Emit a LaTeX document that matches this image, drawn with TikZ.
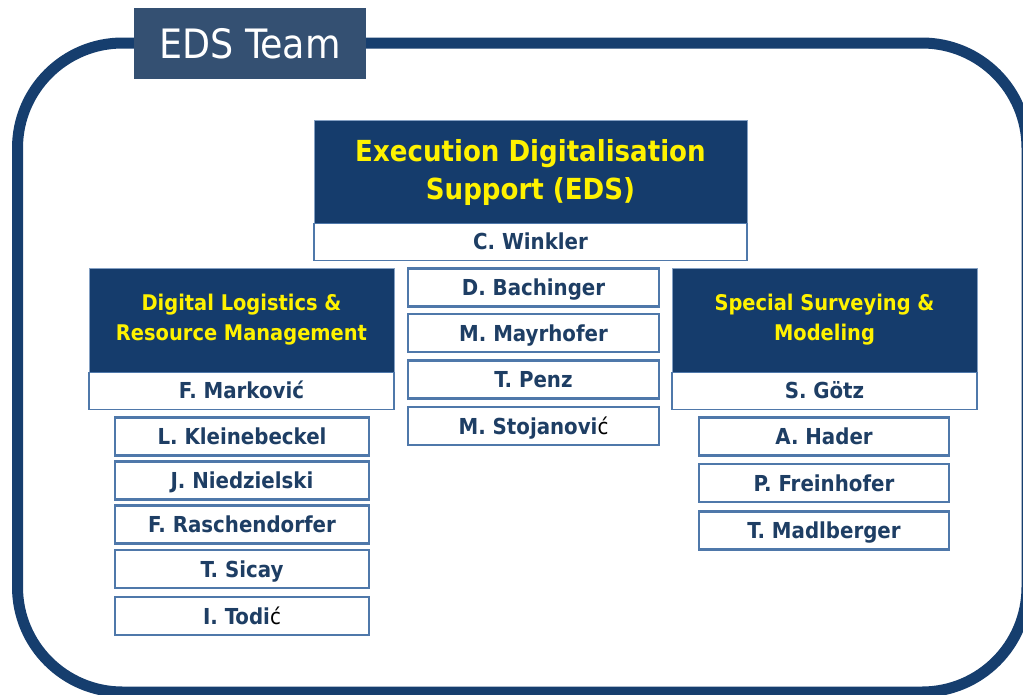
\documentclass[tikz,border=0pt]{standalone}
\usepackage{fontspec}
\setmainfont{DejaVu Sans Condensed}
\definecolor{framec}{RGB}{22,62,110}
\definecolor{titlec}{RGB}{52,80,114}
\definecolor{hdrfill}{RGB}{21,60,108}
\definecolor{hdrtext}{RGB}{255,242,0}
\definecolor{nametext}{RGB}{30,62,100}
\definecolor{boxline}{RGB}{79,120,170}
\tikzset{
  hdr/.style={fill=hdrfill, draw=boxline!70!white, line width=1pt, text=hdrtext, align=center, inner sep=0pt},
  namebar/.style={fill=white, draw=boxline, line width=1.5pt, text=nametext, font=\bfseries\fontsize{22}{24}\selectfont, inner sep=0pt, text height=16pt, text depth=0pt},
  person/.style={fill=white, draw=boxline, line width=2.2pt, text=nametext, font=\bfseries\fontsize{22}{24}\selectfont, inner sep=0pt, text height=16pt, text depth=0pt, minimum height=38pt},
}
\begin{document}
\begin{tikzpicture}[x=1pt,y=-1pt]
\useasboundingbox (0,0) rectangle (1023,694);
\begin{scope}
\clip (0,0) rectangle (1023,694);
\draw[framec, line width=11pt, rounded corners=105pt] (17.5,43) rectangle (1027,692);
\end{scope}
\node[fill=titlec, text=white, minimum width=232pt, minimum height=71pt, inner sep=0pt, font=\fontsize{40.5}{42}\selectfont] (title) at (250,43.5) {EDS Team};

% top
\node[hdr, minimum width=433pt, minimum height=103pt, font=\bfseries\fontsize{29}{38}\selectfont] (eds) at (530.5,172) {Execution Digitalisation\\Support (EDS)};
\node[namebar, minimum width=433pt, minimum height=37pt, anchor=north] (winkler) at ([yshift=1.5pt]eds.south) {C. Winkler};

% left header
\node[hdr, minimum width=305pt, minimum height=104pt, font=\bfseries\fontsize{21.6}{30}\selectfont] (dlrm) at (241.5,320) {Digital Logistics \&\\Resource Management};
\node[namebar, minimum width=305pt, minimum height=37pt, anchor=north] (markovic) at ([yshift=1pt]dlrm.south) {F. Marković};

% right header
\node[hdr, minimum width=305pt, minimum height=104pt, font=\bfseries\fontsize{21.6}{30}\selectfont] (ssm) at (824.5,320) {Special Surveying \&\\Modeling};
\node[namebar, minimum width=305pt, minimum height=37pt, anchor=north] (goetz) at ([yshift=1pt]ssm.south) {S. Götz};

% middle
\node[person, minimum width=251pt] (bach) at (533.5,287.5) {D. Bachinger};
\node[person, minimum width=251pt] (mayr) at (533.5,333) {M. Mayrhofer};
\node[person, minimum width=251pt] (penz) at (533.5,379.5) {T. Penz};
\node[person, minimum width=251pt] (stoj) at (533.5,426) {M. Stojanovi{\color{black}\mdseries ć}};

% left
\node[person, minimum width=254pt] (klein) at (242,436.5) {L. Kleinebeckel};
\node[person, minimum width=254pt] (nied) at (242,480.5) {J. Niedzielski};
\node[person, minimum width=254pt] (rasch) at (242,524.5) {F. Raschendorfer};
\node[person, minimum width=254pt] (sicay) at (242,569) {T. Sicay};
\node[person, minimum width=254pt] (todic) at (242,616) {I. Todi{\color{black}\mdseries ć}};

% right
\node[person, minimum width=250pt] (hader) at (824,436.5) {A. Hader};
\node[person, minimum width=250pt] (frein) at (824,483) {P. Freinhofer};
\node[person, minimum width=250pt] (madl) at (824,530.5) {T. Madlberger};
\end{tikzpicture}
\end{document}
